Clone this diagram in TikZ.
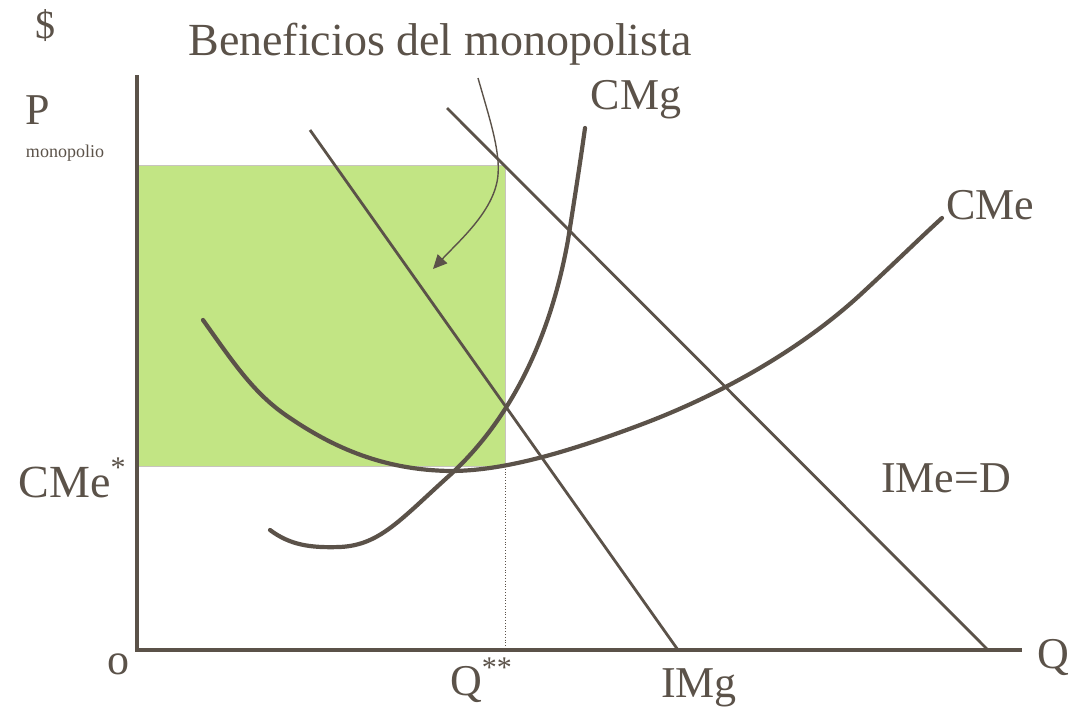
\documentclass[tikz,border=0pt]{standalone}
\usepackage{fontspec}
\setmainfont{Liberation Serif}
\usetikzlibrary{arrows.meta}
\definecolor{ink}{HTML}{5B5249}
\definecolor{profit}{HTML}{C2E584}
\definecolor{edge}{HTML}{C8C4BE}
\newcommand{\supstar}[1]{\raisebox{0.42em}{\fontsize{30}{30}\selectfont #1}}
\tikzset{
  lbl/.style={text=ink, inner sep=0pt, font=\fontsize{44}{48}\selectfont},
  axis/.style={draw=ink, line width=4pt},
  curve/.style={draw=ink, line width=4.2pt, line cap=round},
  demand/.style={draw=ink, line width=2.8pt},
  pointer/.style={draw=ink, line width=1.4pt, -{Triangle[length=14pt,width=13pt]}},
  guide/.style={draw=ink, line width=0.8pt, dotted},
}
\begin{document}
\begin{tikzpicture}[x=1pt,y=-1pt]
\useasboundingbox (0,0) rectangle (1070,709);
% profit rectangle
\fill[profit, draw=edge, line width=1pt] (137,165) rectangle (505,466);
% coordinates
\coordinate (O) at (137,650);
\coordinate (Ytop) at (137,75);
\coordinate (Xend) at (1022,650);
\coordinate (Qs) at (505,650);
\coordinate (Qtop) at (505,466);
\coordinate (imgA) at (310,130);
\coordinate (imgB) at (678,650);
\coordinate (dA) at (447,108);
\coordinate (dB) at (988,650);
\coordinate (arrS) at (478,78);
\coordinate (arrT) at (433,269);
% guide
\draw[guide] (Qtop) -- (Qs);
% axes
\draw[axis] (Ytop) -- (O) -- (Xend);
% straight lines
\draw[demand] (imgA) -- (imgB);
\draw[demand] (dA) -- (dB);
% CMg
\draw[curve] (270,530) .. controls (290,545) and (310,548) .. (340,547)
  .. controls (380,545) and (400,520) .. (450,475)
  .. controls (510,420) and (550,340) .. (568,240)
  .. controls (576,190) and (582,150) .. (585,128);
% CMe
\draw[curve] (203,320) .. controls (235,365) and (255,395) .. (290,418)
  .. controls (340,452) and (390,470) .. (450,471)
  .. controls (500,471) and (560,455) .. (640,425)
  .. controls (720,395) and (800,350) .. (860,295)
  .. controls (900,258) and (920,238) .. (942,218);
% pointer
\draw[pointer] (arrS) .. controls (490,120) and (500,150) .. (498,175)
  .. controls (495,210) and (460,240) .. (arrT);
% labels
\node[lbl, font=\fontsize{40}{44}\selectfont] (dollar) at (45,26) {\$};
\node[lbl, font=\fontsize{46}{50}\selectfont] (title) at (440,44) {Beneficios del monopolista};
\node[lbl] (P) at (38,110) {P};
\node[lbl, font=\fontsize{18}{20}\selectfont] (mono) at (65,153) {monopolio};
\node[lbl, font=\fontsize{46}{50}\selectfont] (cmestar) at (72,478) {CMe\supstar{*}};
\node[lbl] (cmg) at (636,100) {CMg};
\node[lbl] (cme) at (990,205) {CMe};
\node[lbl] (ime) at (946,478) {IMe=D};
\node[lbl] (o) at (118,664) {o};
\node[lbl] (qss) at (481,680) {Q\supstar{**}};
\node[lbl] (img) at (699,688) {IMg};
\node[lbl] (q) at (1053,657) {Q};
\end{tikzpicture}
\end{document}
